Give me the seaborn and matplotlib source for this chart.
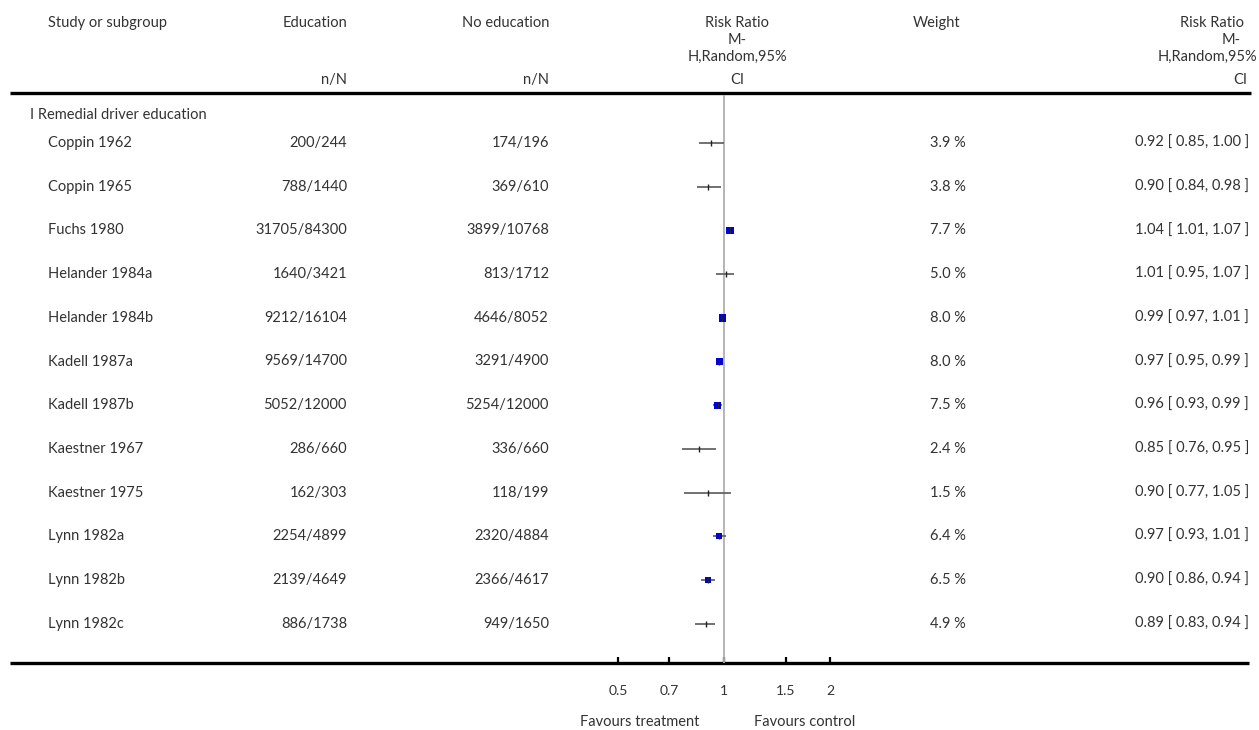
import numpy as np
import pandas as pd
import seaborn as sns
import matplotlib.pyplot as plt

studies = ["Coppin 1962", "Coppin 1965", "Fuchs 1980", "Helander 1984a", "Helander 1984b",
           "Kadell 1987a", "Kadell 1987b", "Kaestner 1967", "Kaestner 1975",
           "Lynn 1982a", "Lynn 1982b", "Lynn 1982c"]
edu = ["200/244", "788/1440", "31705/84300", "1640/3421", "9212/16104", "9569/14700",
       "5052/12000", "286/660", "162/303", "2254/4899", "2139/4649", "886/1738"]
no_edu = ["174/196", "369/610", "3899/10768", "813/1712", "4646/8052", "3291/4900",
          "5254/12000", "336/660", "118/199", "2320/4884", "2366/4617", "949/1650"]
weight = [3.9, 3.8, 7.7, 5.0, 8.0, 8.0, 7.5, 2.4, 1.5, 6.4, 6.5, 4.9]
rr = [0.92, 0.90, 1.04, 1.01, 0.99, 0.97, 0.96, 0.85, 0.90, 0.97, 0.90, 0.89]
lo = [0.85, 0.84, 1.01, 0.95, 0.97, 0.95, 0.93, 0.76, 0.77, 0.93, 0.86, 0.83]
hi = [1.00, 0.98, 1.07, 1.07, 1.01, 0.99, 0.99, 0.95, 1.05, 1.01, 0.94, 0.94]
ticks = [0.5, 0.7, 1, 1.5, 2]
tick_labels = ["0.5", "0.7", "1", "1.5", "2"]

df = pd.DataFrame({"study": studies, "rr": rr, "lo": lo, "hi": hi, "w": weight})
df["row"] = np.arange(len(df))

sns.set_theme(style="white")
plt.rcParams["font.family"] = ["Lato", "DejaVu Sans"]
FS = 10.5
TC = "#333333"

W, H = 1259, 730
fig = plt.figure(figsize=(W / 100, H / 100), dpi=100)

# overlay axes in pixel coordinates for the table text and rules
bg = fig.add_axes([0, 0, 1, 1])
bg.set_xlim(0, W)
bg.set_ylim(H, 0)
bg.axis("off")

row0, step = 143, 43.7

def txt(x, y, s, ha="left"):
    bg.text(x, y, s, fontsize=FS, color=TC, va="center", ha=ha)

# header
txt(48, 23, "Study or subgroup")
txt(347, 23, "Education", "right")
txt(549, 23, "No education", "right")
txt(347, 80, "n/N", "right")
txt(549, 80, "n/N", "right")
for s, y in zip(["Risk Ratio", "M-", "H,Random,95%", "CI"], [23, 40, 57, 80]):
    txt(737, y, s, "center")
txt(937, 23, "Weight", "center")
for s, x, y in zip(["Risk Ratio", "M-", "H,Random,95%", "CI"],
                   [1244, 1241, 1257, 1247], [23, 40, 57, 80]):
    txt(x, y, s, "right")

bg.plot([10, 1251], [93, 93], color="black", lw=2.4, solid_capstyle="butt")
bg.plot([10, 1249], [663, 663], color="black", lw=2.4, solid_capstyle="butt")

txt(30, 115, "I Remedial driver education")
for i in range(len(studies)):
    y = row0 + step * i
    txt(48, y, studies[i])
    txt(347, y, edu[i], "right")
    txt(549, y, no_edu[i], "right")
    txt(966, y, f"{weight[i]:.1f} %", "right")
    txt(1249, y, f"{rr[i]:.2f} [ {lo[i]:.2f}, {hi[i]:.2f} ]", "right")

txt(640, 722, "Favours treatment", "center")
txt(805, 722, "Favours control", "center")

# forest plot axes (log scale, 153 px per ln unit, 1 at x=724)
k = 153.0
x0, x1 = 574, 874
y_top, y_bot = 95, 663
ax = fig.add_axes([x0 / W, 1 - y_bot / H, (x1 - x0) / W, (y_bot - y_top) / H])
ax.patch.set_alpha(0)
ax.set_xscale("log")
ax.set_xlim(np.exp((x0 - 724) / k), np.exp((x1 - 724) / k))
ax.set_ylim((y_bot - row0) / step, (y_top - row0) / step)

ax.axvline(1, color="#b0b0b0", lw=1.3, zorder=1)
ax.hlines(df["row"], df["lo"], df["hi"], color="#666666", lw=1.3, zorder=2)
big = df[df["w"] >= 6]
sns.scatterplot(data=big, x="rr", y="row", ax=ax, marker="s", color="#0000dd",
                s=(big["w"] * 0.95 * 0.72) ** 2, linewidth=0, zorder=3, legend=False)
sns.scatterplot(data=df, x="rr", y="row", ax=ax, marker="|", color="#222222",
                s=20, linewidth=1.0, zorder=4, legend=False)

for sp in ax.spines.values():
    sp.set_visible(False)
ax.set_yticks([])
ax.set_xticks(ticks)
ax.set_xticklabels(tick_labels)
ax.minorticks_off()
ax.tick_params(axis="x", direction="in", length=4.5, width=1.6, color="black",
               pad=16, labelsize=FS - 0.5, labelcolor=TC, bottom=True)
ax.set_xlabel("")
ax.set_ylabel("")

fig.savefig("out.png", dpi=100)
